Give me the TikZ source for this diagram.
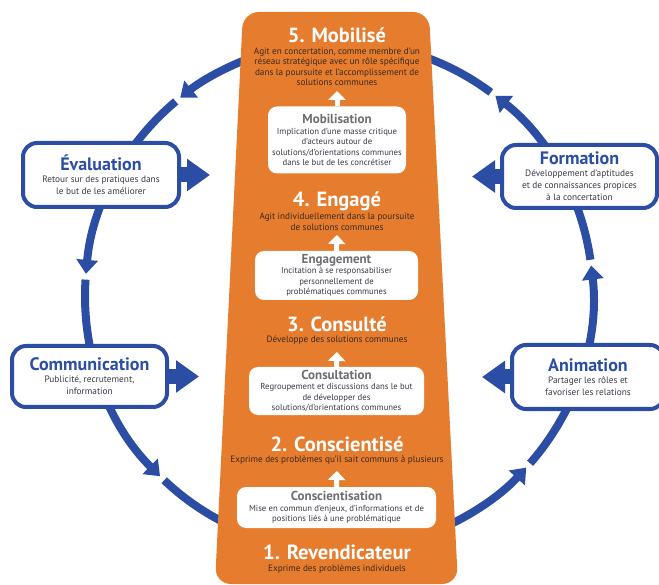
\documentclass[tikz,border=0pt]{standalone}
\usepackage{fontspec}
\setmainfont{PT Sans}
\usetikzlibrary{arrows.meta}

\definecolor{ringblue}{HTML}{2B4DA3}
\definecolor{stageorange}{HTML}{E67C2E}
\definecolor{boxgray}{HTML}{6D6E72}
\definecolor{stagetext}{HTML}{3B2A1E}
\definecolor{bodytext}{HTML}{3A3A48}

\newcommand\boxttl[1]{{\fontsize{13}{13}\selectfont\bfseries\color{boxgray}#1}}
\newcommand\sidettl[1]{{\fontsize{18}{18}\selectfont\bfseries\color{ringblue}#1}}

\begin{document}
\begin{tikzpicture}[x=1pt, y=-1pt,
  ring/.style = {line width=8pt, color=ringblue, -{Triangle[length=14pt, width=21pt]}},
  ringend/.style = {line width=8pt, color=ringblue},
  stage/.style = {text=white, font=\fontsize{20.5}{22}\selectfont\bfseries, inner sep=0pt},
  stagetxt/.style = {text=stagetext, align=center, font=\fontsize{9.2}{10.5}\selectfont, inner sep=0pt},
  inbox/.style = {fill=white, rounded corners=9pt, align=center, text=bodytext,
    font=\fontsize{8.7}{10.5}\selectfont, inner sep=0pt},
  sidebox/.style = {draw=ringblue, line width=4pt, fill=white, rounded corners=14pt,
    align=center, text=bodytext, font=\fontsize{9.3}{12}\selectfont, inner sep=0pt},
  uparrow/.style = {white, line width=5pt, -{Triangle[length=9pt, width=17pt]}},
  sidearrow/.style = {ringblue, line width=15pt, -{Triangle[length=23pt, width=31pt]}}]
  \clip (0,0) rectangle (659,585);
  \fill[white] (0,0) rectangle (659,585);

  % the cycle round the ladder
  \coordinate (ctr) at (339,296);
  \draw[ring] ([shift={(250:254)}]ctr) arc[start angle=250, end angle=231.3, radius=254];
  \draw[ring] ([shift={(230:254)}]ctr) arc[start angle=230, end angle=185, radius=254];
  \draw[ring] ([shift={(183.7:254)}]ctr) arc[start angle=183.7, end angle=134.8, radius=254];
  \draw[ringend] ([shift={(133.5:254)}]ctr) arc[start angle=133.5, end angle=112, radius=254];
  \draw[ring] ([shift={(68:254)}]ctr) arc[start angle=68, end angle=42.5, radius=254];
  \draw[ring] ([shift={(41.2:254)}]ctr) arc[start angle=41.2, end angle=-6.9, radius=254];
  \draw[ring] ([shift={(-8.2:254)}]ctr) arc[start angle=-8.2, end angle=-52, radius=254];
  \draw[ringend] ([shift={(-53.3:254)}]ctr) arc[start angle=-53.3, end angle=-72, radius=254];

  % the ladder
  \fill[stageorange, rounded corners=16pt] (336,12) -- (429,12) -- (458,584)
    -- (215,584) -- (243,12) -- cycle;

  \node[stage] (s5) at (337,35) {5. Mobilisé};
  \node[stagetxt] (d5) at (337,67) {Agit en concertation, comme membre d’un\\
    réseau stratégique avec un rôle spécifique\\dans la poursuite et l’accomplissement de\\
    solutions communes};
  \node[inbox, minimum width=138pt, minimum height=67pt] (mob) at (337,140)
    {\boxttl{Mobilisation}\\Implication d’une masse critique\\d’acteurs autour de\\
    solutions/d’orientations communes\\dans le but de les concrétiser};
  \coordinate (up5) at (337,91);
  \draw[uparrow] (mob.north) -- (up5);

  \node[stage] (s4) at (337,201) {4. Engagé};
  \node[stagetxt] (d4) at (337,222) {Agit individuellement dans la poursuite\\
    de solutions communes};
  \node[inbox, minimum width=163pt, minimum height=49pt] (eng) at (336.5,275.5)
    {\boxttl{Engagement}\\Incitation à se responsabiliser\\personnellement de\\
    problématiques communes};
  \coordinate (up4) at (337,235);
  \draw[uparrow] (eng.north) -- (up4);

  \node[stage] (s3) at (337,324) {3. Consulté};
  \node[stagetxt] (d3) at (337,340) {Développe des solutions communes};
  \node[inbox, minimum width=175pt, minimum height=48pt] (cons) at (336.5,391)
    {\boxttl{Consultation}\\Regroupement et discussions dans le but\\de développer des\\
    solutions/d’orientations communes};
  \coordinate (up3) at (337,352);
  \draw[uparrow] (cons.north) -- (up3);

  \node[stage] (s2) at (337,444) {2. Conscientisé};
  \node[stagetxt] (d2) at (337,460) {Exprime des problèmes qu’il sait communs à plusieurs};
  \node[inbox, minimum width=199pt, minimum height=41pt] (consc) at (336.5,507.5)
    {\boxttl{Conscientisation}\\Mise en commun d’enjeux, d’informations et de\\
    positions liés à une problématique};
  \coordinate (up2) at (337,471);
  \draw[uparrow] (consc.north) -- (up2);

  \node[stage] (s1) at (337,552) {1. Revendicateur};
  \node[stagetxt] (d1) at (337,569) {Exprime des problèmes individuels};

  % the four levers
  \node[sidebox, minimum width=156pt, minimum height=64pt] (eval) at (101,175)
    {\sidettl{Évaluation}\\Retour sur des pratiques dans\\le but de les améliorer};
  \node[sidebox, minimum width=155pt, minimum height=61pt] (comm) at (89.5,376.5)
    {\sidettl{Communication}\\Publicité, recrutement,\\information};
  \node[sidebox, minimum width=155pt, minimum height=63pt] (form) at (579.5,176.5)
    {\sidettl{Formation}\\Développement d'aptitudes\\et de connaissances propices\\
    à la concertation};
  \node[sidebox, minimum width=152pt, minimum height=64pt] (anim) at (588,377)
    {\sidettl{Animation}\\Partager les rôles et\\favoriser les relations};

  \coordinate (evaltip) at (210,175);
  \coordinate (commtip) at (199,376.5);
  \coordinate (formtip) at (472,176.5);
  \coordinate (animtip) at (482,377);
  \draw[sidearrow] (eval.east) -- (evaltip);
  \draw[sidearrow] (comm.east) -- (commtip);
  \draw[sidearrow] (form.west) -- (formtip);
  \draw[sidearrow] (anim.west) -- (animtip);
\end{tikzpicture}
\end{document}
